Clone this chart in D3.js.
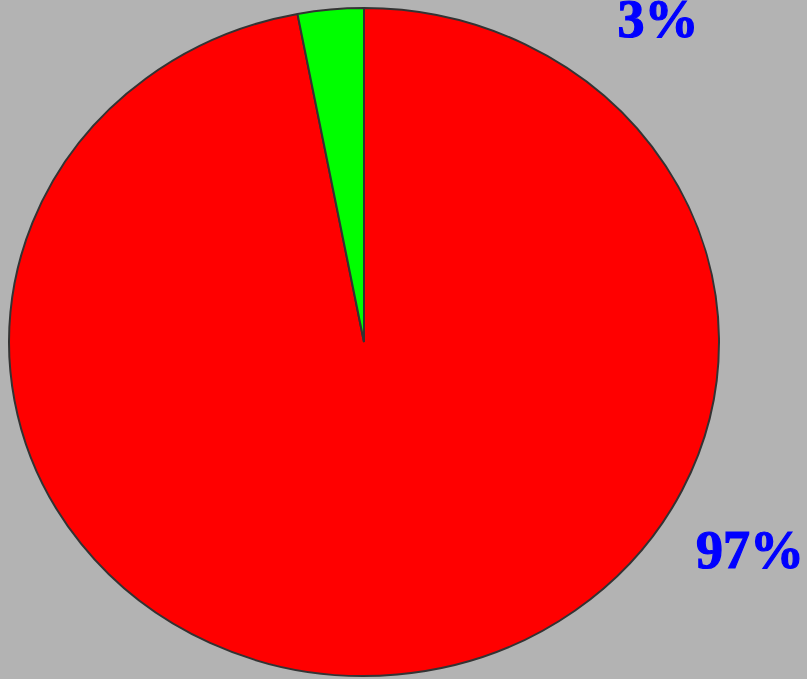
<!DOCTYPE html>
<html>
<head>
<meta charset="utf-8">
<script src="https://cdn.jsdelivr.net/npm/d3@7"></script>
<style>
  html, body { margin: 0; padding: 0; background: #b3b3b3; overflow: hidden; }
  svg { display: block; }
</style>
</head>
<body>
<svg id="chart" width="807" height="679"></svg>
<script>
// Share of the two groups
const categories = ["Majority", "Minority"];
const values = [97, 3];
const labels = ["97%", "3%"];
const colors = ["#ff0000", "#00ff00"];

const width = 807, height = 679;
const cx = 364, cy = 342;
const rx = 355, ry = 334;

const svg = d3.select("#chart");

const pie = d3.pie().sort(null).value(d => d)
  .startAngle(0).endAngle(2 * Math.PI);
const arcs = pie(values);

const arc = d3.arc().innerRadius(0).outerRadius(rx);

// Pie squashed vertically into an ellipse; stroke kept at constant width
const g = svg.append("g")
  .attr("transform", `translate(${cx},${cy}) scale(1,${ry / rx})`);

g.selectAll("path")
  .data(arcs)
  .join("path")
  .attr("d", arc)
  .attr("fill", (d, i) => colors[i])
  .attr("stroke", "#333333")
  .attr("stroke-width", 2)
  .attr("stroke-linejoin", "bevel")
  .attr("vector-effect", "non-scaling-stroke");

// Percentage labels
const labelPos = [
  { x: 750, y: 568 },
  { x: 658, y: 37 }
];

svg.selectAll("text.pct")
  .data(arcs)
  .join("text")
  .attr("class", "pct")
  .attr("x", (d, i) => labelPos[i].x)
  .attr("y", (d, i) => labelPos[i].y)
  .attr("text-anchor", "middle")
  .attr("font-family", "'Liberation Serif', 'Times New Roman', serif")
  .attr("font-weight", "bold")
  .attr("font-size", 54)
  .attr("fill", "#0000ff")
  .attr("stroke", "#0000ff")
  .attr("stroke-width", 1.2)
  .text((d, i) => labels[i]);
</script>
</body>
</html>
